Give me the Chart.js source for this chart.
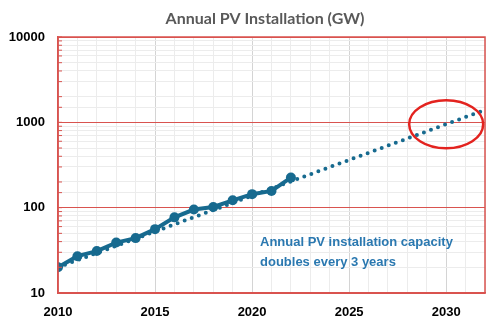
<!DOCTYPE html>
<html>
<head>
<meta charset="utf-8">
<script src="https://cdn.jsdelivr.net/npm/chart.js@4.4.1/dist/chart.umd.min.js"></script>
<style>
  html, body { margin: 0; padding: 0; background: #fff; }
  #wrap { width: 500px; height: 327px; }
</style>
</head>
<body>
<div id="wrap"><canvas id="pvChart"></canvas></div>
<script>
// yearly installations in GW
var years = [2010, 2011, 2012, 2013, 2014, 2015, 2016, 2017, 2018, 2019, 2020, 2021, 2022];
var installedGW = [20, 27, 31, 39, 44, 56, 77, 95, 102, 122, 144, 157, 225];

// exponential trend (straight on log axis)
var trendYears = [2010, 2032];
var trendGW = [20, 1400];

// highlighted target
var targetYear = 2030;
var targetGW = 950;

var noteLines = ['Annual PV installation capacity', 'doubles every 3 years'];
var titleText = 'Annual PV Installation (GW)';

var lineColor = '#176a8f';
var red = '#d9534f';

function toPoints(xs, ys) {
    var pts = [];
    for (var i = 0; i < xs.length; i++) pts.push({ x: xs[i], y: ys[i] });
    return pts;
}

function isDecade(v) {
    var l = Math.log10(v);
    return Math.abs(l - Math.round(l)) < 1e-9;
}

var extras = {
    id: 'extras',
    afterDatasetsDraw: function (chart) {
        var ctx = chart.ctx;
        var a = chart.chartArea;
        var xs = chart.scales.x, ys = chart.scales.y;
        ctx.save();

        // small inner ticks on the left axis
        ctx.strokeStyle = red;
        ctx.lineWidth = 1;
        ys.ticks.forEach(function (t) {
            var py = ys.getPixelForValue(t.value);
            ctx.beginPath();
            ctx.moveTo(a.left, py);
            ctx.lineTo(a.left + 4, py);
            ctx.stroke();
        });

        // frame
        ctx.lineWidth = 1.5;
        ctx.strokeRect(a.left, a.top, a.right - a.left, a.bottom - a.top);

        // circle round the 2030 target
        ctx.strokeStyle = '#e3231f';
        ctx.lineWidth = 2.5;
        ctx.beginPath();
        ctx.ellipse(xs.getPixelForValue(targetYear), ys.getPixelForValue(targetGW), 37, 24, 0, 0, Math.PI * 2);
        ctx.stroke();

        // note
        ctx.fillStyle = '#2a78b0';
        ctx.font = 'bold 13px "Liberation Sans", Arial, sans-serif';
        ctx.textAlign = 'left';
        ctx.textBaseline = 'middle';
        ctx.fillText(noteLines[0], a.left + 202, a.top + 205);
        ctx.fillText(noteLines[1], a.left + 202, a.top + 225);

        // title
        ctx.fillStyle = '#595959';
        ctx.font = 'bold 16px Lato, "Open Sans", sans-serif';
        ctx.textAlign = 'center';
        ctx.fillText(titleText, 265, 19);
        ctx.restore();
    }
};

var ctx = document.getElementById('pvChart').getContext('2d');
var chart = new Chart(ctx, {
    type: 'line',
    data: {
        datasets: [{
            data: toPoints(trendYears, trendGW),
            borderColor: lineColor,
            borderWidth: 4,
            borderDash: [0, 7.5],
            borderCapStyle: 'round',
            pointRadius: 0,
            fill: false
        }, {
            data: toPoints(years, installedGW),
            borderColor: lineColor,
            backgroundColor: lineColor,
            borderWidth: 4,
            pointRadius: 5,
            pointBorderWidth: 0,
            pointBackgroundColor: lineColor,
            tension: 0,
            fill: false
        }]
    },
    options: {
        responsive: true,
        maintainAspectRatio: false,
        animation: false,
        layout: { padding: { top: 37, right: 15, left: 0, bottom: 0 } },
        plugins: {
            legend: { display: false },
            tooltip: { enabled: false },
            title: { display: false }
        },
        scales: {
            x: {
                type: 'linear',
                min: 2010,
                max: 2032,
                afterFit: function (s) { s.height = 34; },
                grid: {
                    drawTicks: false,
                    color: function (c) { return c.tick.value % 5 === 0 ? '#d4d4d4' : '#ececec'; }
                },
                border: { color: red, width: 1.5 },
                ticks: {
                    stepSize: 1,
                    autoSkip: false,
                    maxRotation: 0,
                    padding: 12,
                    color: '#000',
                    font: { family: '"Liberation Sans", Arial, sans-serif', size: 13, weight: 'bold' },
                    callback: function (v) { return v % 5 === 0 ? String(v) : ''; }
                }
            },
            y: {
                type: 'logarithmic',
                min: 10,
                max: 10000,
                afterFit: function (s) { s.width = 58; },
                grid: {
                    drawTicks: false,
                    color: function (c) { return isDecade(c.tick.value) ? red : '#ececec'; }
                },
                border: { color: red, width: 1.5 },
                ticks: {
                    autoSkip: false,
                    padding: 13,
                    color: '#000',
                    font: { family: '"Liberation Sans", Arial, sans-serif', size: 13, weight: 'bold' },
                    callback: function (v) { return isDecade(v) ? String(v) : ''; }
                }
            }
        }
    },
    plugins: [extras]
});
</script>
</body>
</html>
